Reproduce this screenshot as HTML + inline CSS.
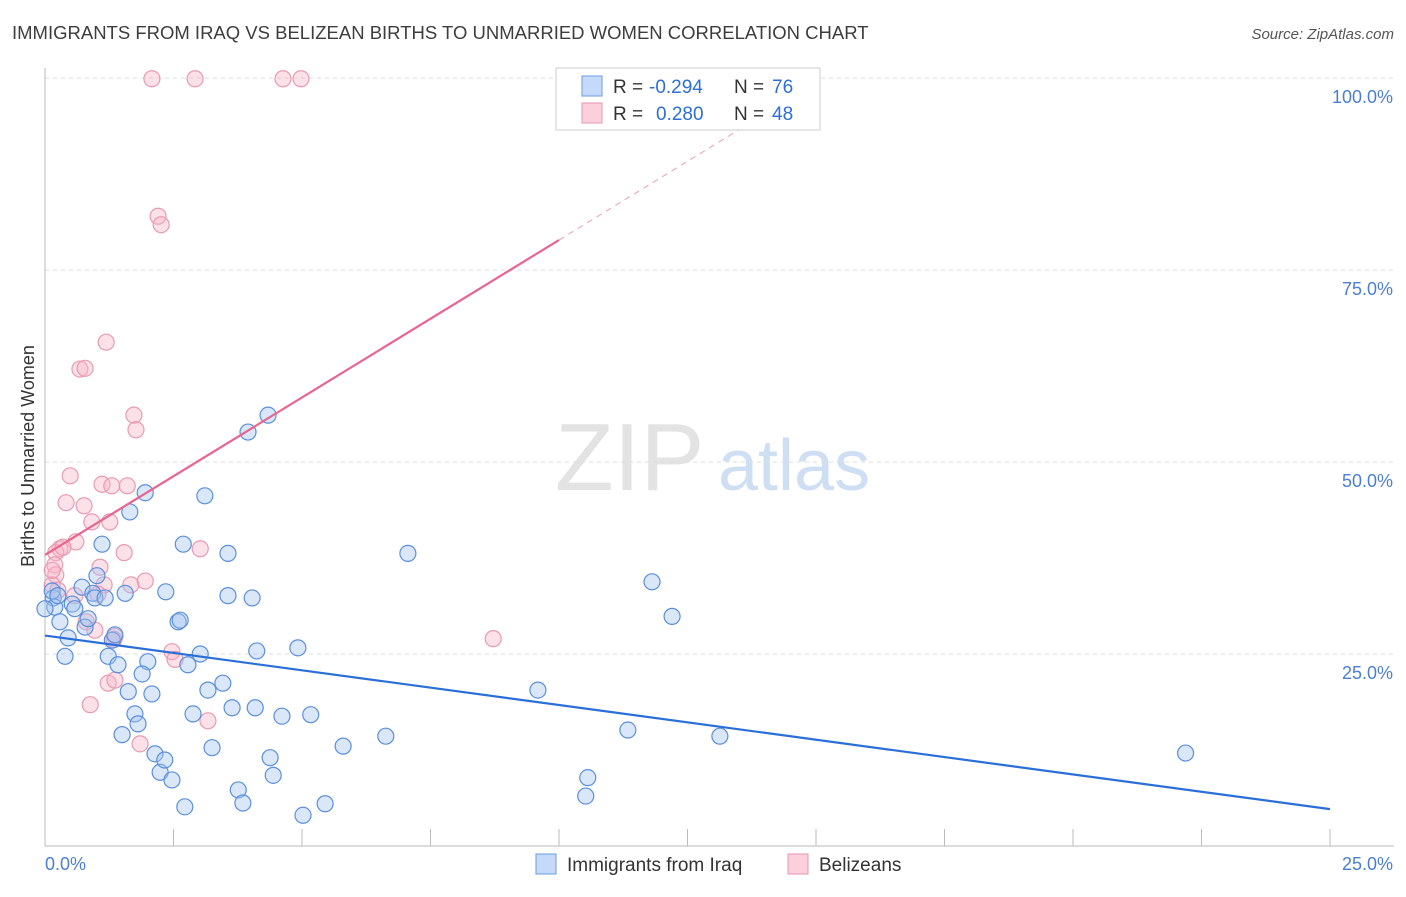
<!DOCTYPE html>
<html><head><meta charset="utf-8"><style>
body{margin:0;background:#fff;font-family:"Liberation Sans",sans-serif;}
svg text{font-family:"Liberation Sans",sans-serif;}
</style></head><body>
<svg id="chart" width="1406" height="892">
<text x="12" y="39" font-size="18.5" fill="#3d3d3d">IMMIGRANTS FROM IRAQ VS BELIZEAN BIRTHS TO UNMARRIED WOMEN CORRELATION CHART</text>
<text x="1394" y="39" font-size="15" fill="#555" text-anchor="end" font-style="italic">Source: ZipAtlas.com</text>
<text x="34" y="456" font-size="18" fill="#333" text-anchor="middle" transform="rotate(-90 34 456)">Births to Unmarried Women</text>
<text x="555" y="490" font-size="96" fill="#e3e3e3" font-family="Liberation Serif">ZIP</text>
<text x="718" y="490" font-size="72" fill="#cfdff3">atlas</text>
<g id="grid"></g><g id="pink"></g><g id="blue"></g><g id="lines"></g>
<rect x="556" y="68" width="264" height="62" fill="#fff" stroke="#ccc"/>
<rect x="582" y="76" width="20" height="20" fill="#c5dafa" stroke="#6b9de0"/>
<rect x="582" y="103" width="20" height="20" fill="#fbcfdc" stroke="#e895ae"/>
<g font-size="19">
<text x="613" y="93" fill="#333">R =</text><text x="649" y="93" fill="#2d6fd6">-0.294</text>
<text x="734" y="93" fill="#333">N =</text><text x="772" y="93" fill="#2d6fd6">76</text></g>
<g font-size="19">
<text x="613" y="120" fill="#333">R =</text><text x="656" y="120" fill="#2d6fd6">0.280</text>
<text x="734" y="120" fill="#333">N =</text><text x="772" y="120" fill="#2d6fd6">48</text></g>
<rect x="536" y="854" width="20" height="20" fill="#c5dafa" stroke="#6b9de0"/>
<text x="567" y="871" font-size="19" fill="#333">Immigrants from Iraq</text>
<rect x="788" y="854" width="20" height="20" fill="#fbcfdc" stroke="#e895ae"/>
<text x="819" y="871" font-size="19" fill="#333">Belizeans</text>
</svg>
<script>
const yTicks=[25,50,75,100];
const yTickLabels=["25.0%","50.0%","75.0%","100.0%"];
const xTickLabels=["0.0%","25.0%"];
const blueX=[0.16,0.19,0.14,0.29,0.25,0.39,0.45,0.53,0.58,0.72,0.78,0.84,0.93,1.01,0.97,1.11,1.17,1.23,1.31,1.36,1.42,1.56,1.62,1.75,1.81,1.95,2.0,1.89,2.08,1.5,1.65,2.14,2.24,2.33,2.47,2.35,2.59,2.63,2.69,2.78,2.72,2.88,3.02,3.11,3.17,3.25,3.46,3.56,3.56,3.64,3.76,3.85,3.95,4.03,4.09,4.12,4.34,4.38,4.44,4.61,4.92,5.02,5.17,5.45,5.8,6.63,7.06,9.59,10.52,10.56,11.34,11.81,12.2,13.13,22.19,0.0];
const blueY=[32.3,31.1,33.2,29.2,32.6,24.7,27.1,31.5,30.9,33.7,28.5,29.6,32.9,35.2,32.3,39.3,32.3,24.7,26.8,27.5,23.6,32.9,20.1,17.2,15.9,46.0,24.0,22.4,19.8,14.5,43.5,12.0,9.6,11.2,8.6,33.1,29.2,29.4,39.3,23.6,5.1,17.2,25.0,45.6,20.3,12.8,21.2,38.1,32.6,18.0,7.3,5.6,53.9,32.3,18.0,25.4,56.1,11.5,9.2,16.9,25.8,4.0,17.1,5.5,13.0,14.3,38.1,20.3,6.5,8.9,15.1,34.4,29.9,14.3,12.1,30.9];
const pinkX=[2.08,2.92,4.63,4.98,2.2,2.26,1.19,0.68,0.78,1.73,1.77,0.49,1.11,1.3,1.6,0.41,0.76,0.91,1.26,0.6,0.29,0.21,0.35,1.54,3.02,0.19,1.07,0.21,0.14,0.25,1.15,1.67,1.95,0.58,1.03,0.8,0.97,1.36,1.34,2.47,2.53,8.72,1.23,1.36,0.88,3.17,1.85,0.14];
const pinkY=[99.9,99.9,99.9,99.9,82.0,80.9,65.6,62.1,62.2,56.1,54.2,48.2,47.1,46.9,46.9,44.7,44.3,42.2,42.2,39.6,38.7,38.2,38.9,38.2,38.7,36.6,36.3,35.3,34.0,33.3,34.0,34.0,34.5,32.6,32.8,29.2,28.1,27.3,26.9,25.3,24.3,27.0,21.2,21.6,18.4,16.3,13.3,35.9];
const blueLine=[27.4,4.8];
const pinkLine=[37.9,140.4];
const pinkLineSolidEnd=10.0;
const pinkLineDashEnd=14.0;
const NS="http://www.w3.org/2000/svg";
const X=v=>45+v/25*1285, Y=v=>846-v/100*768;
function mk(tag,attrs,parent){const e=document.createElementNS(NS,tag);for(const k in attrs)e.setAttribute(k,attrs[k]);document.getElementById(parent).appendChild(e);return e;}
yTicks.forEach((t,i)=>{
 const g=mk('line',{x1:45,x2:1394,y1:Y(t),y2:Y(t),stroke:'#ddd','stroke-dasharray':'4,4'},'grid');
 
 
 const l=mk('text',{x:1393,y:Y(t)+25,'font-size':18,fill:'#4a7fd4','text-anchor':'end'},'grid');
 l.textContent=yTickLabels[i];
 
 
});
const ax=mk('line',{x1:45,x2:45,y1:68,y2:846,stroke:'#bbb'},'grid');


const bx=mk('line',{x1:45,x2:1394,y1:846,y2:846,stroke:'#bbb'},'grid');


for(let i=1;i<=10;i++){const t=mk('line',{x1:X(i*2.5),x2:X(i*2.5),y1:829,y2:846,stroke:'#bbb'},'grid');
 
 }
[[0,'start',45],[25,'end',1393]].forEach((d,i)=>{const t=mk('text',{x:d[2],y:870,'font-size':18,fill:'#4a7fd4','text-anchor':d[1]},'grid');t.textContent=xTickLabels[i];
 
 });
pinkX.forEach((x,i)=>{const c=mk('circle',{cx:X(x),cy:Y(pinkY[i]),r:8,fill:'rgba(248,180,200,0.4)',stroke:'#e99ab2','stroke-width':1.2},'pink');
 
 });
blueX.forEach((x,i)=>{const c=mk('circle',{cx:X(x),cy:Y(blueY[i]),r:8,fill:'rgba(160,195,240,0.4)',stroke:'#5b8fdc','stroke-width':1.2},'blue');
 
 });
const pv=x=>pinkLine[0]+(pinkLine[1]-pinkLine[0])*x/25;
const bl=mk('line',{x1:X(0),y1:Y(blueLine[0]),x2:X(25),y2:Y(blueLine[1]),stroke:'#2a6fd8','stroke-width':2.2},'lines');


const pl=mk('line',{x1:X(0),y1:Y(pv(0)),x2:X(pinkLineSolidEnd),y2:Y(pv(pinkLineSolidEnd)),stroke:'#e8658f','stroke-width':2.2},'lines');


const pd=mk('line',{x1:X(pinkLineSolidEnd),y1:Y(pv(pinkLineSolidEnd)),x2:X(pinkLineDashEnd),y2:Y(pv(pinkLineDashEnd)),stroke:'#e8a0b8','stroke-width':1,'stroke-dasharray':'6,5'},'lines');


</script>
</body></html>
